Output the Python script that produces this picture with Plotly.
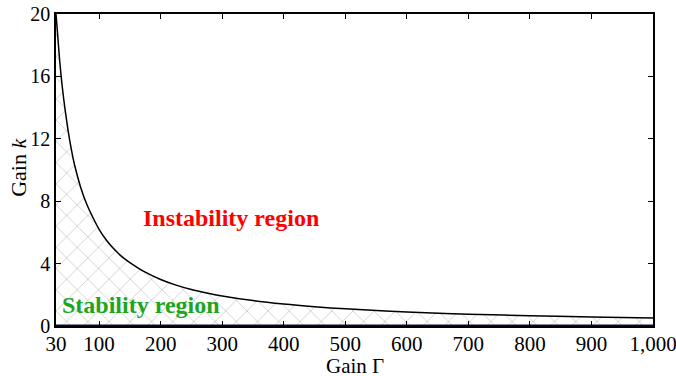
import plotly.graph_objects as go

gamma = [30, 33, 36, 40, 45, 50, 55, 60, 70, 80, 90, 100, 112, 125, 137, 150, 175, 200, 225, 250, 275, 300, 350, 400, 450, 500, 600, 700, 800, 900, 1000]
k_bound = [20.0, 18.5, 17.0, 15.4, 13.8, 12.45, 11.3, 10.35, 8.9, 7.8, 6.95, 6.2, 5.5, 4.9, 4.45, 4.07, 3.45, 2.98, 2.62, 2.34, 2.12, 1.93, 1.63, 1.41, 1.24, 1.1, 0.9, 0.76, 0.66, 0.58, 0.52]
k_zero = [0.0 for _ in gamma]

x_ticks = [30, 100, 200, 300, 400, 500, 600, 700, 800, 900, 1000]
x_ticktext = ["30", "100", "200", "300", "400", "500", "600", "700", "800", "900", "1,000"]
y_ticks = [0, 4, 8, 12, 16, 20]

font = "Liberation Serif"

fig = go.Figure()
fig.add_trace(go.Scatter(x=gamma, y=k_zero, mode="lines",
                         line=dict(color="#0a0a3c", width=3), showlegend=False))
fig.add_trace(go.Scatter(x=gamma, y=k_bound, mode="lines", fill="tonexty",
                         line_shape="spline",
                         fillcolor="white",
                         fillpattern=dict(shape="x", fgcolor="#c8c8c8", bgcolor="white",
                                          size=15, solidity=0.1, fillmode="replace"),
                         line=dict(color="black", width=1.5), showlegend=False))

fig.add_annotation(x=315, y=6.9, text="<b>Instability region</b>", showarrow=False,
                   xanchor="center", yanchor="middle",
                   font=dict(family=font, size=24, color="#ff0000"))
fig.add_annotation(x=168, y=1.35, text="<b>Stability region</b>", showarrow=False,
                   xanchor="center", yanchor="middle",
                   font=dict(family=font, size=24, color="#1ea51e"))

# axis titles as annotations (exact placement)
fig.add_annotation(xref="paper", yref="paper", x=0.50, y=-0.127, text="Gain Γ",
                   xanchor="center", yanchor="middle",
                   showarrow=False, font=dict(family=font, size=21, color="black"))
fig.add_annotation(xref="paper", yref="paper", x=-0.062, y=0.51, text="Gain <i>k</i>",
                   xanchor="center", yanchor="middle",
                   textangle=-90, showarrow=False,
                   font=dict(family=font, size=22, color="black"))

fig.update_layout(
    width=676, height=376,
    margin=dict(l=56, r=23, t=14, b=50, autoexpand=False),
    paper_bgcolor="white", plot_bgcolor="white",
    font=dict(family=font, size=20, color="black"),
)
fig.update_xaxes(range=[30, 1000], tickvals=x_ticks, ticktext=x_ticktext,
                 ticks="inside", ticklen=5, tickcolor="black", showgrid=False,
                 zeroline=False, showline=True, linecolor="black", linewidth=1.5,
                 mirror="ticks", automargin=False, ticklabeloverflow="allow",
                 ticklabelstandoff=-2,
                 tickfont=dict(family=font, size=21))
fig.update_yaxes(range=[0, 20], tickvals=y_ticks, ticks="inside", ticklen=5,
                 tickcolor="black", showgrid=False, zeroline=False, showline=True,
                 linecolor="black", linewidth=1.5, mirror="ticks", automargin=False,
                 ticklabeloverflow="allow",
                 tickfont=dict(family=font, size=20))

fig.write_html("out.html", config={"displayModeBar": False},
               post_script="document.body.style.margin='0px';document.body.style.overflow='hidden';")
